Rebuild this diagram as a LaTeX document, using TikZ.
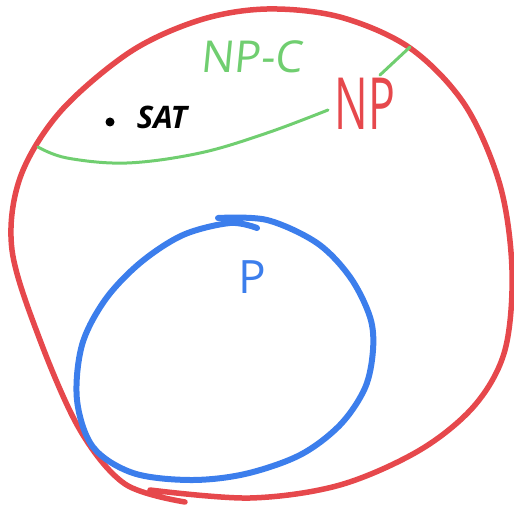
\documentclass[tikz,border=0pt]{standalone}
\usepackage{fontspec}
\setmainfont{Open Sans}
\usepackage{tikz}
\usetikzlibrary{positioning}
\definecolor{npred}{RGB}{230,72,76}
\definecolor{pblue}{RGB}{60,126,236}
\definecolor{npcgreen}{RGB}{112,206,112}
\tikzset{
  npline/.style ={draw=npred,line width=5.5pt,line cap=round,line join=round},
  pline/.style  ={draw=pblue,line width=6pt,line cap=round,line join=round},
  npcline/.style={draw=npcgreen,line width=3pt,line cap=round},
  lbl/.style    ={inner sep=0pt,anchor=center},
}

\begin{document}
\begin{tikzpicture}[x=1pt,y=-1pt]
  \useasboundingbox (0,0) rectangle (514,505);
  % NP
  \draw[npline] plot[smooth,tension=0.55] coordinates {(185,502) (125,484) (80,430) (40,340) (12,250) (20,178) (60,112) (130,52) (200,20) (267,9) (340,17) (410,48) (465,105) (500,185) (512,270) (505,350) (475,405) (420,450) (340,485) (250,498) (150,490)};
  % P
  \draw[pline] plot[smooth,tension=0.55] coordinates {(218,218) (267,220) (317,243) (350,277) (370,317) (373,350) (365,388) (340,425) (300,455) (245,474) (190,480) (133,473) (93,447) (77,400) (82,345) (105,300) (140,263) (183,235) (230,223) (257,228)};
  % NP-C
  \draw[npcline] plot[smooth,tension=0.6] coordinates {(38,147) (67,158) (127,163) (200,153) (267,133) (328,110)};
  \draw[npcline] (380,75) -- (410,47);
  \node[lbl,text=npcgreen,font=\fontsize{44}{44}\selectfont,xslant=0.1] (npc) at (253,57) {NP-C};
  \node[lbl,text=npred,font=\fontsize{72}{72}\selectfont,xscale=0.62] (np) at (365,104) {NP};
  \node[lbl,text=pblue,font=\fontsize{46}{46}\selectfont] (p) at (252,277) {P};
  \node[lbl,font=\bfseries\itshape\fontsize{31}{31}\selectfont] (sat) at (162,117) {SAT};
  \fill (110,122) circle (4.5);
\end{tikzpicture}
\end{document}
